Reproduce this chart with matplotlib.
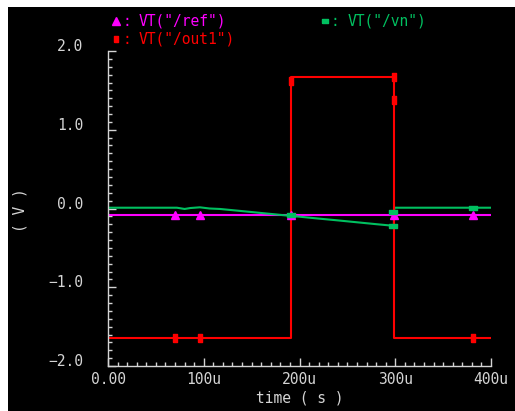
import numpy as np
import matplotlib
matplotlib.use("Agg")
import matplotlib.pyplot as plt
from matplotlib.patches import Rectangle
from matplotlib.ticker import MultipleLocator, FuncFormatter
from matplotlib.transforms import ScaledTranslation

# data (time in microseconds, volts)
t_out1 = [0, 190.8, 190.8, 298.7, 298.7, 400]
v_out1 = [-1.645, -1.645, 1.665, 1.665, -1.645, -1.645]
mk_out1_t = [70, 96, 191, 298.7, 298.7, 381]
mk_out1_v = [-1.645, -1.645, 1.625, 1.665, 1.38, -1.645]

t_ref = [0, 400]
v_ref = [-0.085, -0.085]
mk_ref_t = [70, 96, 191, 298.7, 381]
mk_ref_v = [-0.085, -0.085, -0.085, -0.085, -0.085]

t_vn = [0, 72, 80, 86, 96, 106, 117, 140, 160, 180, 200, 220, 240, 260, 280, 298.5, 299, 400]
v_vn = [0.01, 0.01, -0.006, 0.006, 0.015, 0.0, -0.006, -0.033, -0.057, -0.081,
        -0.104, -0.128, -0.151, -0.175, -0.199, -0.22, 0.01, 0.01]
mk_vn_t = [191, 298, 298, 381]
mk_vn_v = [-0.083, -0.04, -0.22, 0.01]

xticks = [0, 100, 200, 300, 400]
xticklabels = ["0.00", "100u", "200u", "300u", "400u"]
yticks = [-2.0, -1.0, 0.0, 1.0, 2.0]

RED = "#ff0000"
MAG = "#ff00ff"
GRN = "#00c060"
FG = "#d4d4d4"
FONT = "DejaVu Sans Mono"

vbar = [(-0.55, -1), (0.55, -1), (0.55, 1), (-0.55, 1), (-0.55, -1)]
hbar = [(-1, -0.5), (1, -0.5), (1, 0.5), (-1, 0.5), (-1, -0.5)]

fig = plt.figure(figsize=(5.15, 4.11), dpi=100, facecolor="white")
fig.add_artist(Rectangle((8 / 515, 0), 1, 1 - 7 / 411, transform=fig.transFigure,
                         facecolor="black", edgecolor="none", zorder=-10))

ax = fig.add_axes([108 / 515, 1 - 366 / 411, 383 / 515, 315 / 411])
ax.set_facecolor("black")
ax.set_zorder(1)

ax.plot(t_ref, v_ref, color=MAG, lw=1.5)
ax.plot(t_vn, v_vn, color=GRN, lw=1.5)
ax.plot(t_out1, v_out1, color=RED, lw=1.5)
ax.plot(mk_ref_t, mk_ref_v, ls="none", marker="^", ms=6, color=MAG, clip_on=False)
ax.plot(mk_vn_t, mk_vn_v, ls="none", marker=hbar, ms=5.5, color=GRN, clip_on=False)
ax.plot(mk_out1_t, mk_out1_v, ls="none", marker=vbar, ms=5.5, color=RED, clip_on=False)

ax.set_xlim(0, 400)
ax.set_ylim(-2.0, 2.0)
for s in ["top", "right"]:
    ax.spines[s].set_visible(False)
for s in ["left", "bottom"]:
    ax.spines[s].set_color(FG)
    ax.spines[s].set_linewidth(1)

ax.set_xticks(xticks)
ax.set_xticklabels(xticklabels)
ax.set_yticks(yticks)
ax.yaxis.set_major_formatter(FuncFormatter(lambda v, p: f"{v:.1f}".replace("-", "\u2212")))
ax.xaxis.set_minor_locator(MultipleLocator(10))
ax.yaxis.set_minor_locator(MultipleLocator(0.1))
ax.tick_params(which="both", direction="in", color=FG, width=1)
ax.tick_params(which="major", length=6)
ax.tick_params(which="minor", length=3)
ax.tick_params(axis="x", which="major", pad=4, labelcolor=FG, labelsize=10.5)
ax.tick_params(axis="y", which="major", pad=18, labelcolor=FG, labelsize=10.5)
for lab in ax.get_xticklabels() + ax.get_yticklabels():
    lab.set_family(FONT)
for lab in ax.get_yticklabels():
    lab.set_transform(lab.get_transform() + ScaledTranslation(0, 6 / 100, fig.dpi_scale_trans))

ax.set_xlabel("time ( s )", color=FG, fontsize=10.5, family=FONT, labelpad=3)
fig.text(20 / 515, 1 - 210 / 411, "( V )", rotation=90, color=FG, fontsize=10.5,
         family=FONT, ha="center", va="center")

# legend
def legend_item(x, y, marker, ms, color, label):
    fx, fy = x / 515, 1 - y / 411
    fig.add_artist(plt.Line2D([fx], [fy], marker=marker, ms=ms, color=color,
                              ls="none", transform=fig.transFigure))
    fig.text(fx + 6 / 515, fy, ":", color=color, fontsize=10.5, family=FONT,
             ha="left", va="center")
    fig.text(fx + 23 / 515, fy, label, color=color, fontsize=10.5, family=FONT,
             ha="left", va="center")

legend_item(116, 21, "^", 5.5, MAG, 'VT("/ref")')
legend_item(116, 39, vbar, 5, RED, 'VT("/out1")')
legend_item(325, 21, hbar, 5, GRN, 'VT("/vn")')

fig.savefig("out.png", dpi=100, facecolor=fig.get_facecolor())
